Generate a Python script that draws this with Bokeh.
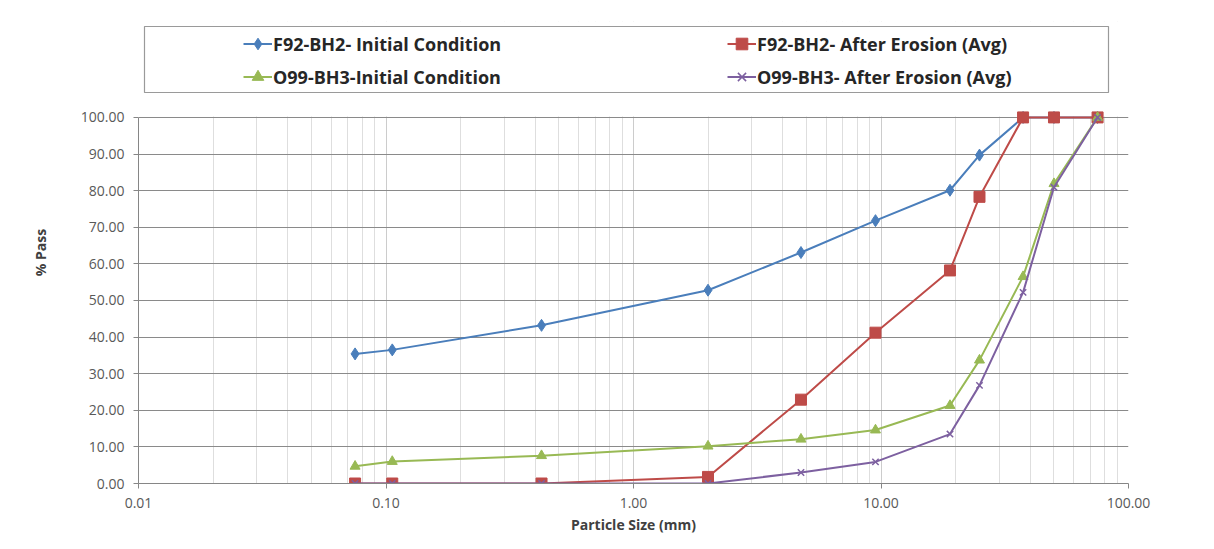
from bokeh.plotting import figure
from bokeh.models import (FixedTicker, NumeralTickFormatter, Legend, LegendItem,
                          BoxAnnotation, Range1d)
from bokeh.embed import file_html
from bokeh.resources import INLINE

# ---- data ----
sizes = [0.075, 0.106, 0.425, 2.0, 4.75, 9.5, 19.0, 25.0, 37.5, 50.0, 75.0]
f92_initial = [35.4, 36.5, 43.2, 52.8, 63.1, 71.8, 80.1, 89.7, 100.0, 100.0, 100.0]
f92_after = [0.0, 0.0, 0.0, 1.8, 22.9, 41.2, 58.2, 78.3, 100.0, 100.0, 100.0]
o99_initial = [4.7, 6.0, 7.6, 10.2, 12.1, 14.6, 21.3, 33.7, 56.5, 81.9, 100.0]
o99_after = [0.0, 0.0, 0.0, 0.0, 3.0, 5.9, 13.5, 26.8, 52.2, 80.9, 100.0]

series_names = ["F92-BH2- Initial Condition", "F92-BH2- After Erosion (Avg)",
                "O99-BH3-Initial Condition", "O99-BH3- After Erosion (Avg)"]

x_ticks = [0.01, 0.1, 1.0, 10.0, 100.0]
x_tick_labels = ["0.01", "0.10", "1.00", "10.00", "100.00"]
y_ticks = [0, 10, 20, 30, 40, 50, 60, 70, 80, 90, 100]

FONT = "Open Sans"
Y_TOP = 126.2   # headroom above 100 % that holds the legend

p = figure(width=1214, height=549, x_axis_type="log", output_backend="svg",
           toolbar_location=None, x_range=Range1d(0.01, 100), y_range=Range1d(0, Y_TOP))
p.min_border_left = 138
p.min_border_right = 86
p.min_border_top = 21
p.min_border_bottom = 66
p.outline_line_color = None
p.background_fill_color = "white"
p.border_fill_color = "white"

minor = [m * d for d in [0.01, 0.1, 1.0, 10.0] for m in range(2, 10)]
p.xaxis.ticker = FixedTicker(ticks=x_ticks, minor_ticks=minor)
p.xaxis.major_label_overrides = {t: l for t, l in zip(x_ticks, x_tick_labels)}
p.yaxis.ticker = FixedTicker(ticks=y_ticks)
p.yaxis.formatter = NumeralTickFormatter(format="0.00")
p.yaxis.bounds = (y_ticks[0], y_ticks[-1])

for ax in (p.xaxis, p.yaxis):
    ax.axis_line_color = "#868686"
    ax.major_tick_line_color = "#868686"
    ax.major_tick_out = 5
    ax.major_tick_in = 0
    ax.minor_tick_line_color = None
    ax.major_label_text_font = FONT
    ax.major_label_text_font_size = "14px"
    ax.major_label_text_color = "#595959"
    ax.axis_label_text_font = FONT
    ax.axis_label_text_font_size = "14px"
    ax.axis_label_text_font_style = "bold"
    ax.axis_label_text_color = "#404040"

p.xaxis.axis_label = "Particle Size (mm)"
p.yaxis.axis_label = "% Pass"
p.xaxis.major_label_standoff = 9
p.xaxis.axis_label_standoff = 4
p.yaxis.major_label_standoff = 9
p.yaxis.axis_label_standoff = 28

p.xgrid.grid_line_color = "#cccccc"
p.xgrid.minor_grid_line_color = "#dedede"
p.ygrid.grid_line_color = "#8a8a8a"

# white band above 100 % hides the vertical grid lines there
p.add_layout(BoxAnnotation(bottom=100.25, level="underlay", fill_color="white",
                           fill_alpha=1.0, line_color=None))

colors = ["#4a7ebb", "#be4b48", "#98b954", "#7d60a0"]
markers = ["diamond", "square", "triangle", "x"]
msizes = [12, 11, 10, 9]
data = [f92_initial, f92_after, o99_initial, o99_after]

items = []
for name, col, mk, ms, ys in zip(series_names, colors, markers, msizes, data):
    ln = p.line(sizes, ys, line_color=col, line_width=2)
    sc = p.scatter(sizes, ys, marker=mk, size=ms, fill_color=col, line_color=col,
                   line_width=1.5 if mk == "x" else 1)
    items.append(LegendItem(label=name, renderers=[ln, sc]))

# legend frame
p.add_layout(BoxAnnotation(left=144, right=1108, top=26, bottom=92,
                           left_units="canvas", right_units="canvas",
                           top_units="canvas", bottom_units="canvas",
                           fill_color=None, fill_alpha=0,
                           line_color="#9a9a9a", line_alpha=1.0, line_width=1.2))

legend = Legend(items=items, orientation="horizontal", ncols=2,
                location=(105, 390), border_line_color=None,
                background_fill_alpha=0, padding=0, margin=0, spacing=0,
                glyph_width=29, glyph_height=33, label_height=33,
                label_width=454, label_standoff=1,
                label_text_font=FONT, label_text_font_size="18px",
                label_text_font_style="bold", label_text_color="#262626")
p.add_layout(legend, "center")

open("out.html", "w").write(file_html(p, INLINE))
